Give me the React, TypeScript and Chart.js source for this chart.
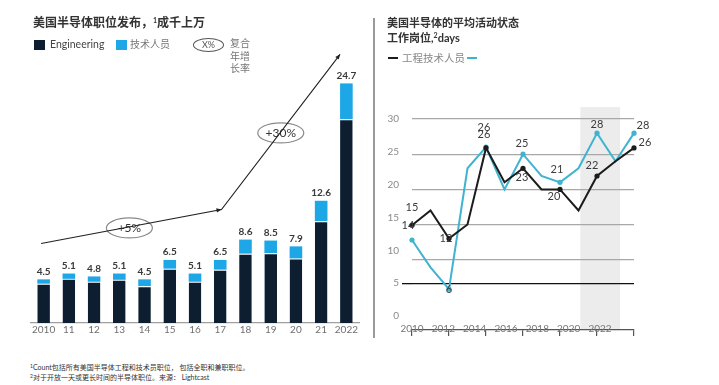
import { useEffect, useRef } from "react";
import { Chart, registerables } from "chart.js";

Chart.register(...registerables);

// ---------- Left chart data ----------
const barYears = ["2010", "11", "12", "13", "14", "15", "16", "17", "18", "19", "20", "21", "2022"];
const engineering = [4.05, 4.55, 4.25, 4.45, 3.8, 5.6, 4.25, 5.5, 7.15, 7.2, 6.65, 10.5, 21.0];
const technicians = [0.45, 0.55, 0.55, 0.65, 0.7, 0.9, 0.85, 1.0, 1.45, 1.3, 1.25, 2.1, 3.7];
const totalLabels = ["4.5", "5.1", "4.8", "5.1", "4.5", "6.5", "5.1", "6.5", "8.6", "8.5", "7.9", "12.6", "24.7"];
// CAGR trend path: [category index, value]
const cagrPath = [
  [-0.1, 8.2],
  [7.05, 11.7],
  [11.75, 27.7],
];
const cagrBadgeText = ["+5%", "+30%"];
const cagrBadgeAt = [
  [3.4, 9.8],
  [9.4, 19.6],
];

// ---------- Right chart data ----------
const dayIndex = [0, 1, 2, 3, 4, 5, 6, 7, 8, 9, 10, 11, 12];
const dayYearTicks = [2010, 2012, 2014, 2016, 2018, 2020, 2022];
const dayValueTicks = [0, 5, 10, 15, 20, 25, 30];
const dayGridTicks = [10, 15, 20, 25, 30];
const engDays = [14.9, 17.0, 13.0, 15.0, 25.9, 21.0, 23.0, 20.0, 20.0, 17.0, 21.9, 24.0, 25.9];
const techDays = [12.8, 8.9, 5.8, 23.0, 26.0, 20.0, 25.0, 21.9, 21.0, 23.0, 28.0, 24.0, 28.0];
const engOuter = ["15", "", "", "", "26", "", "23", "", "20", "", "22", "", "26"];
const engInner = ["14", "", "12", "", "", "", "", "", "", "", "", "", ""];
const techOuter = ["", "", "", "", "26", "", "25", "", "21", "", "28", "", "28"];
const techInner = ["", "", "6", "", "", "", "", "", "", "", "", "", ""];
const shadedSpan = [9.1, 11.25];
const shadedTop = 31.7;
const yearAxisAt = 1.0;

// ---------- styles ----------
const NAVY = "#0c1e30";
const SKY = "#1da7e6";
const LINE_DARK = "#1c1c1c";
const LINE_CYAN = "#3fb3cf";
const FONT = 'Lato, "Noto Sans CJK SC", sans-serif';

const engOuterOff: Record<number, [number, number]> = {
  0: [0, -18],
  4: [-2, -13],
  6: [-1, 9],
  8: [-6, 7],
  10: [-5, -11],
  12: [11, -5],
};
const techOuterOff: Record<number, [number, number]> = {
  4: [-2, -20],
  6: [-1, -11],
  8: [-3, -13],
  10: [0, -9],
  12: [9, -8],
};
const engInnerOff: Record<number, [number, number]> = { 0: [-4, 0], 2: [-3, 0] };
const techInnerOff: Record<number, [number, number]> = { 2: [0, 0] };

function arrowHead(ctx: CanvasRenderingContext2D, from: number[], to: number[]) {
  const ang = Math.atan2(to[1] - from[1], to[0] - from[0]);
  const len = 5;
  const half = 2.2;
  ctx.beginPath();
  ctx.moveTo(to[0], to[1]);
  ctx.lineTo(to[0] - len * Math.cos(ang) + half * Math.sin(ang), to[1] - len * Math.sin(ang) - half * Math.cos(ang));
  ctx.lineTo(to[0] - len * Math.cos(ang) - half * Math.sin(ang), to[1] - len * Math.sin(ang) + half * Math.cos(ang));
  ctx.closePath();
  ctx.fill();
}

const barExtras = {
  id: "barExtras",
  afterDatasetsDraw(chart: any) {
    const { ctx, scales } = chart;
    const x = scales.x;
    const y = scales.y;
    ctx.save();
    // total labels
    ctx.font = `bold 10px ${FONT}`;
    ctx.fillStyle = "#3a3a3a";
    ctx.textAlign = "center";
    ctx.textBaseline = "bottom";
    totalLabels.forEach((t, i) => {
      const top = y.getPixelForValue(engineering[i] + technicians[i]);
      ctx.fillText(t, x.getPixelForValue(i), top - 3);
    });
    // badges
    ctx.strokeStyle = "#8a8a8a";
    ctx.lineWidth = 1.2;
    ctx.font = `12px ${FONT}`;
    ctx.fillStyle = "#333";
    ctx.textBaseline = "middle";
    cagrBadgeAt.forEach(([i, v], k) => {
      const cx = x.getPixelForValue(i);
      const cy = y.getPixelForValue(v);
      ctx.beginPath();
      ctx.ellipse(cx, cy, 23, 10, 0, 0, Math.PI * 2);
      ctx.stroke();
      ctx.fillText(cagrBadgeText[k], cx, cy);
    });
    // trend path
    const pts = cagrPath.map(([i, v]) => [x.getPixelForValue(i), y.getPixelForValue(v)]);
    ctx.strokeStyle = "#222";
    ctx.fillStyle = "#222";
    ctx.lineWidth = 1.1;
    ctx.beginPath();
    pts.forEach((p, k) => (k === 0 ? ctx.moveTo(p[0], p[1]) : ctx.lineTo(p[0], p[1])));
    ctx.stroke();
    arrowHead(ctx, pts[0], pts[1]);
    arrowHead(ctx, pts[1], pts[2]);
    ctx.restore();
  },
};

const shadePlugin = {
  id: "shade",
  beforeDraw(chart: any) {
    const { ctx, chartArea, scales } = chart;
    const x0 = scales.x.getPixelForValue(shadedSpan[0]);
    const x1 = scales.x.getPixelForValue(shadedSpan[1]);
    const yt = scales.y.getPixelForValue(shadedTop);
    ctx.save();
    ctx.fillStyle = "#ececec";
    ctx.fillRect(x0, yt, x1 - x0, chartArea.bottom - yt);
    ctx.restore();
  },
};

const dayLabels = {
  id: "dayLabels",
  afterDatasetsDraw(chart: any) {
    const { ctx } = chart;
    const sets = [
      { di: 0, texts: [engOuter, engInner], offs: [engOuterOff, engInnerOff] },
      { di: 1, texts: [techOuter, techInner], offs: [techOuterOff, techInnerOff] },
    ];
    ctx.save();
    ctx.font = `11px ${FONT}`;
    ctx.fillStyle = "#3c3c3c";
    ctx.textAlign = "center";
    ctx.textBaseline = "middle";
    sets.forEach(({ di, texts, offs }) => {
      const meta = chart.getDatasetMeta(di);
      texts.forEach((arr, k) => {
        arr.forEach((t, i) => {
          if (!t) return;
          const el = meta.data[i];
          const o = offs[k][i] || [0, 0];
          ctx.fillText(t, el.x + o[0], el.y + o[1]);
        });
      });
    });
    ctx.restore();
  },
};

function BarChart() {
  const ref = useRef<HTMLCanvasElement>(null);
  useEffect(() => {
    const chart = new Chart(ref.current!, {
      type: "bar",
      data: {
        labels: barYears,
        datasets: [
          {
            label: "Engineering",
            data: engineering,
            backgroundColor: NAVY,
            borderColor: "#ffffff",
            borderWidth: { top: 1, left: 0, right: 0, bottom: 0 },
            borderSkipped: false,
          },
          { label: "技术人员", data: technicians, backgroundColor: SKY, borderWidth: 0 },
        ],
      },
      options: {
        animation: false,
        responsive: true,
        maintainAspectRatio: false,
        layout: { padding: { left: 31, right: 13, top: 32, bottom: 0 } },
        plugins: { legend: { display: false }, tooltip: { enabled: false } },
        datasets: { bar: { categoryPercentage: 1, barPercentage: 0.5 } },
        scales: {
          x: {
            stacked: true,
            grid: { display: false, drawTicks: false },
            border: { color: "#a0a0a0", width: 1.3 },
            ticks: { color: "#707070", font: { family: FONT, size: 10 }, padding: 1, maxRotation: 0, autoSkip: false },
            afterFit: (s: any) => {
              s.height = 22;
            },
          },
          y: { stacked: true, display: false, min: 0, max: 30 },
        },
      },
      plugins: [barExtras],
    });
    return () => chart.destroy();
  }, []);
  return <canvas ref={ref} />;
}

function LineChart() {
  const ref = useRef<HTMLCanvasElement>(null);
  useEffect(() => {
    const radius = (c: any) => (c.dataIndex % 2 === 0 ? 2.6 : 0);
    const chart = new Chart(ref.current!, {
      type: "line",
      data: {
        datasets: [
          {
            label: "工程",
            data: dayIndex.map((i) => ({ x: i, y: engDays[i] })),
            borderColor: LINE_DARK,
            backgroundColor: LINE_DARK,
            borderWidth: 2,
            pointRadius: radius,
            pointBorderWidth: 0,
            tension: 0,
            clip: false,
          },
          {
            label: "技术人员",
            data: dayIndex.map((i) => ({ x: i, y: techDays[i] })),
            borderColor: LINE_CYAN,
            backgroundColor: LINE_CYAN,
            borderWidth: 2,
            pointRadius: radius,
            pointBorderWidth: 0,
            tension: 0,
            clip: false,
          },
        ],
      },
      options: {
        animation: false,
        responsive: true,
        maintainAspectRatio: false,
        layout: { padding: { left: 10, right: 85, top: 105, bottom: 9 } },
        plugins: { legend: { display: false }, tooltip: { enabled: false } },
        scales: {
          x: {
            type: "linear",
            position: "bottom",
            weight: 0,
            min: 0,
            max: 12,
            afterBuildTicks: (s: any) => {
              s.ticks = dayIndex.filter((i) => i % 2 === 0).map((v) => ({ value: v }));
            },
            ticks: { display: false },
            grid: { drawOnChartArea: false, drawTicks: true, tickLength: 6, tickColor: "#555", lineWidth: 1.2 },
            border: { color: "#555", width: 1.2 },
            afterFit: (s: any) => {
              s.height = 6;
            },
          },
          x2: {
            type: "linear",
            position: { y: yearAxisAt },
            min: 2010,
            max: 2024.17,
            afterBuildTicks: (s: any) => {
              s.ticks = dayYearTicks.map((v) => ({ value: v }));
            },
            ticks: {
              color: "#777",
              font: { family: FONT, size: 10 },
              padding: 0,
              autoSkip: false,
              maxRotation: 0,
              callback: (v: any) => String(v),
            },
            grid: { display: false, drawTicks: false },
            border: { display: false },
          },
          y: {
            type: "linear",
            position: "left",
            weight: 0,
            min: 0,
            max: 32,
            afterBuildTicks: (s: any) => {
              s.ticks = dayGridTicks.map((v) => ({ value: v }));
            },
            ticks: { display: false },
            grid: { color: "#a8a8a8", lineWidth: 1.2, drawTicks: false },
            border: { display: false },
            afterFit: (s: any) => {
              s.width = 0;
            },
          },
          y2: {
            type: "linear",
            position: "left",
            weight: 1,
            min: -2.13,
            max: 32.13,
            afterBuildTicks: (s: any) => {
              s.ticks = dayValueTicks.map((v) => ({ value: v }));
            },
            ticks: { color: "#8a8a8a", font: { family: FONT, size: 10 }, padding: 3 },
            grid: {
              color: (c: any) => (c.tick && c.tick.value === 5 ? "#111" : "rgba(0,0,0,0)"),
              tickColor: (c: any) => (c.tick && c.tick.value === 5 ? "#111" : "rgba(0,0,0,0)"),
              lineWidth: 1.3,
              drawTicks: true,
              tickLength: 10,
            },
            border: { display: false },
            afterFit: (s: any) => {
              s.width = 28;
            },
          },
        },
      },
      plugins: [shadePlugin, dayLabels],
    });
    return () => chart.destroy();
  }, []);
  return <canvas ref={ref} />;
}

export default function App() {
  const abs = (o: any) => ({ position: "absolute" as const, ...o });
  return (
    <div
      style={{
        position: "fixed",
        left: 0,
        top: 0,
        width: 719,
        height: 385,
        background: "#fff",
        fontFamily: FONT,
        overflow: "hidden",
      }}
    >
      {/* Left panel */}
      <div style={abs({ left: 0, top: 0, width: 372, height: 345 })}>
        <BarChart />
      </div>
      <div style={abs({ left: 33, top: 15, fontSize: 12, fontWeight: "bold", color: "#333", lineHeight: "16px", whiteSpace: "nowrap" })}>
        美国半导体职位发布，<span style={{ fontSize: 7, position: "relative", top: -4 }}>1</span>成千上万
      </div>
      <div style={abs({ left: 34, top: 40, width: 11, height: 10, background: NAVY })} />
      <div style={abs({ left: 50, top: 37, fontSize: 10.5, color: "#444", lineHeight: "14px" })}>Engineering</div>
      <div style={abs({ left: 116, top: 40, width: 11, height: 10, background: SKY })} />
      <div style={abs({ left: 130, top: 37, fontSize: 10, color: "#777", lineHeight: "14px" })}>技术人员</div>
      <div
        style={abs({
          left: 193,
          top: 38,
          width: 29,
          height: 12,
          border: "1px solid #555",
          borderRadius: "50%",
          fontSize: 9,
          color: "#555",
          lineHeight: "12px",
          textAlign: "center",
        })}
      >
        X%
      </div>
      <div style={abs({ left: 230, top: 37, fontSize: 10, color: "#777", lineHeight: "12.5px" })}>
        复合
        <br />
        年增
        <br />
        长率
      </div>
      <div style={abs({ left: 30, top: 363, fontSize: 7, color: "#333", lineHeight: "9px", whiteSpace: "nowrap" })}>
        <span style={{ fontSize: 5, position: "relative", top: -2 }}>1</span>Count包括所有美国半导体工程和技术员职位， 包括全职和兼职职位。
        <br />
        <span style={{ fontSize: 5, position: "relative", top: -2 }}>2</span>对于开放一天或更长时间的半导体职位。来源： Lightcast
      </div>

      {/* Separator */}
      <div style={abs({ left: 373, top: 18, width: 1.5, height: 320, background: "#9a9a9a" })} />

      {/* Right panel */}
      <div style={abs({ left: 374, top: 0, width: 345, height: 345 })}>
        <LineChart />
      </div>
      <div style={abs({ left: 387, top: 15, fontSize: 11, fontWeight: "bold", color: "#333", lineHeight: "15px", whiteSpace: "nowrap" })}>
        美国半导体的平均活动状态
        <br />
        工作岗位,<span style={{ fontSize: 7, position: "relative", top: -4 }}>2</span>
        <span style={{ fontWeight: "bold" }}>days</span>
      </div>
      <div style={abs({ left: 388, top: 57, width: 10, height: 2, background: LINE_DARK })} />
      <div style={abs({ left: 402, top: 51, fontSize: 10.5, color: "#888", lineHeight: "14px", whiteSpace: "nowrap" })}>工程技术人员</div>
      <div style={abs({ left: 467, top: 57, width: 10, height: 2, background: LINE_CYAN })} />
    </div>
  );
}
